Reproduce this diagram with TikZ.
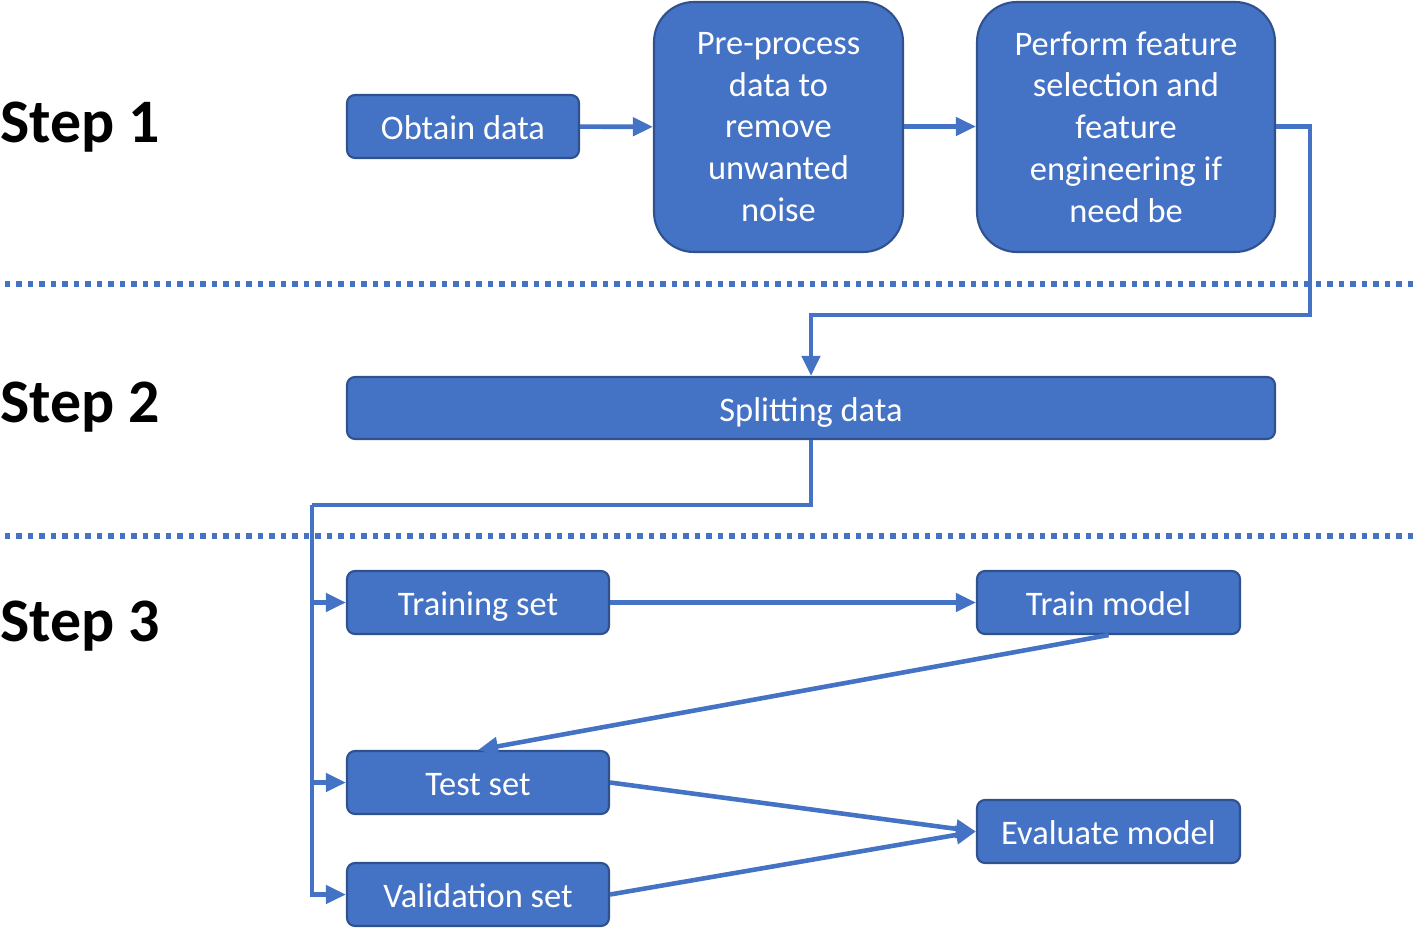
\documentclass[tikz,border=0pt]{standalone}
\usepackage{fontspec}
\setmainfont{Carlito}
\usepackage{tikz}
\usetikzlibrary{arrows.meta,calc,positioning}
\definecolor{boxblue}{HTML}{4472C4}
\definecolor{boxedge}{HTML}{2F528F}
\tikzset{
        block/.style = {draw=boxedge, fill=boxblue, line width=0.6pt,
            rounded corners=0.08cm, text=white, align=center,
            font=\fontsize{9.8}{11.9}\selectfont,
            inner sep=0pt, minimum height=0.63cm,
            text height=2.05ex, text depth=0.45ex},
        bigblock/.style = {block, rounded corners=0.4cm, minimum height=2.5cm,
            text height=, text depth=},
        arrow/.style = {draw=boxblue, line width=1.3pt,
            -{Triangle[length=0.2cm,width=0.18cm]}},
        wire/.style = {draw=boxblue, line width=1.3pt},
        divider/.style = {draw=boxblue, line width=0.055cm,
            dash pattern=on 0.055cm off 0.06cm},
        steplabel/.style = {anchor=west, inner sep=0pt,
            font=\bfseries\fontsize{17.6}{20}\selectfont},
    }

\begin{document}
\begin{tikzpicture}
    \useasboundingbox (0,0) rectangle (14.18,-9.27);

    % step labels
    \node[steplabel] (step1) at (0,-1.27) {Step 1};
    \node[steplabel] (step2) at (0,-4.07) {Step 2};
    \node[steplabel] (step3) at (0,-6.26) {Step 3};

    % dividers
    \draw[divider] (0.05,-2.84) -- (14.18,-2.84);
    \draw[divider] (0.05,-5.36) -- (14.18,-5.36);

    % step 1
    \node[block, minimum width=2.32cm] (obtain) at (4.63,-1.265) {Obtain data};
    \node[bigblock, minimum width=2.49cm] (preproc) at (7.785,-1.27)
        {Pre-process\\data to\\remove\\unwanted\\noise};
    \node[bigblock, minimum width=2.98cm] (feature) at (11.26,-1.27)
        {Perform feature\\selection and\\feature\\engineering if\\need be};

    % step 2
    \node[block, minimum width=9.28cm, minimum height=0.62cm] (split) at (8.11,-4.08) {Splitting data};

    % step 3
    \node[block, minimum width=2.62cm] (training) at (4.78,-6.025) {Training set};
    \node[block, minimum width=2.62cm] (test) at (4.78,-7.825) {Test set};
    \node[block, minimum width=2.62cm] (valid) at (4.78,-8.945) {Validation set};
    \node[block, minimum width=2.63cm] (trainmodel) at (11.085,-6.025) {Train model};
    \node[block, minimum width=2.63cm] (evalmodel) at (11.085,-8.315) {Evaluate model};

    \coordinate (turnA) at (13.1,-3.15);
    \coordinate (turnB) at (3.12,-5.05);

    \draw[arrow] (obtain) -- (preproc);
    \draw[arrow] (preproc.east |- obtain) -- (feature.west |- obtain);
    \draw[arrow] (feature.east |- obtain) -| (turnA) -| (split.north);
    \draw[wire] (split.south) |- (turnB);
    \draw[arrow] (turnB) |- (valid.west);
    \draw[arrow] (training.west -| turnB) -- (training.west);
    \draw[arrow] (test.west -| turnB) -- (test.west);

    \draw[arrow] (training) -- (trainmodel);
    \draw[arrow] (trainmodel.south) -- (test.north);
    \draw[arrow] (test.east) -- (evalmodel.west);
    \draw[arrow] (valid.east) -- (evalmodel.west);
\end{tikzpicture}
\end{document}
